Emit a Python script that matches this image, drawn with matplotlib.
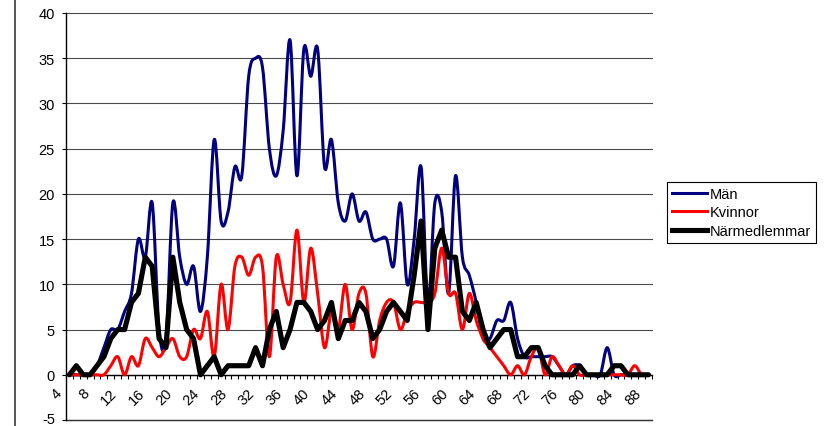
import numpy as np
import matplotlib
matplotlib.use("Agg")
import matplotlib.pyplot as plt
from matplotlib.path import Path
from matplotlib.patches import PathPatch
from matplotlib.lines import Line2D
import matplotlib.transforms as mtransforms
from matplotlib.ticker import FixedLocator, NullFormatter

plt.rcParams['font.family'] = ['Liberation Sans', 'DejaVu Sans']
plt.rcParams['axes.unicode_minus'] = False

# ---------------- data ----------------
ages = list(range(4, 89))
label_ages = list(range(4, 89, 4))
y_ticks = list(range(-5, 41, 5))

man = [0, 0, 0, 0, 1, 3, 5, 5, 7, 9,
       15, 13, 19, 5, 4, 19, 13, 10, 12, 7,
       13, 26, 17, 18, 23, 22, 33, 35, 34, 25,
       22, 27, 37, 22, 36, 33, 36, 23, 26, 19,
       17, 20, 17, 18, 15, 15, 15, 12, 19, 10,
       15, 23, 8, 19, 18, 9, 22, 13, 11, 8,
       4, 4, 6, 6, 8, 4, 2, 2, 2, 2,
       2, 1, 0, 1, 1, 0, 0, 0, 3, 0,
       0, 0, 0, 0, 0]

kvinnor = [0, 0, 0, 0, 0, 0, 1, 2, 0, 2,
           1, 4, 3, 2, 3, 4, 2, 2, 5, 4,
           7, 2, 10, 5, 12, 13, 11, 13, 12, 2,
           13, 10, 8, 16, 8, 14, 9, 3, 7, 5,
           10, 5, 9, 9, 2, 6, 8, 8, 5, 7,
           8, 8, 8, 9, 14, 9, 9, 5, 9, 6,
           4, 3, 2, 1, 0, 1, 0, 2, 3, 0,
           2, 1, 0, 1, 0, 0, 0, 0, 0, 0,
           0, 0, 1, 0, 0]

narmed = [0, 1, 0, 0, 1, 2, 4, 5, 5, 8,
          9, 13, 12, 4, 3, 13, 8, 5, 4, 0,
          1, 2, 0, 1, 1, 1, 1, 3, 1, 5,
          7, 3, 5, 8, 8, 7, 5, 6, 8, 4,
          6, 6, 8, 7, 4, 5, 7, 8, 7, 6,
          11, 17, 5, 14, 16, 13, 13, 7, 6, 8,
          5, 3, 4, 5, 5, 2, 2, 3, 3, 1,
          0, 0, 0, 0, 1, 0, 0, 0, 0, 1,
          1, 0, 0, 0, 0]

series_names = ['Män', 'Kvinnor', 'Närmedlemmar']
colors = ['#000080', '#FF0000', '#000000']
widths = [2.2, 2.2, 3.7]


def smooth_path(xs, ys):
    """Excel-like smoothed line as cubic Bezier path through the data points."""
    pts = np.column_stack([xs, ys]).astype(float)
    n = len(pts)
    verts = [pts[0]]
    codes = [Path.MOVETO]
    for i in range(n - 1):
        p0 = pts[i - 1] if i > 0 else pts[i]
        p1 = pts[i]
        p2 = pts[i + 1]
        p3 = pts[i + 2] if i + 2 < n else pts[i + 1]
        c1 = p1 + (p2 - p0) / 6.0
        c2 = p2 - (p3 - p1) / 6.0
        verts += [c1, c2, p2]
        codes += [Path.CURVE4] * 3
    return Path(verts, codes)


W, H = 832, 427
fig = plt.figure(figsize=(W / 100, H / 100), dpi=100)
ax = fig.add_axes([66 / W, 1 - 421 / H, (652 - 66) / W, (421 - 14) / H])

ax.set_xlim(3.5, 88.5)
ax.set_ylim(y_ticks[0], y_ticks[-1])

# axes styling
for s in ['top', 'right']:
    ax.spines[s].set_visible(False)
ax.spines['bottom'].set_position(('data', 0))
ax.spines['bottom'].set_color('black')
ax.spines['bottom'].set_linewidth(1.0)
ax.spines['left'].set_color('black')
ax.spines['left'].set_linewidth(1.0)

ax.set_yticks(y_ticks)
ax.yaxis.grid(True, color='#4a4a4a', linewidth=0.8)
for gl in ax.get_ygridlines():
    gl.set_clip_on(False)
ax.set_axisbelow(True)
ax.tick_params(axis='y', length=3, width=0.8, direction='out', pad=5,
               labelsize=10.5, colors='black')
up = mtransforms.ScaledTranslation(0, 2 / 100, fig.dpi_scale_trans)
for lab in ax.get_yticklabels():
    if lab.get_text() in ('-5', '−5'):
        lab.set_transform(lab.get_transform() + up)

# bottom gridline (lowest value level) drawn explicitly across the plot width
ax.plot([0, 1], [y_ticks[0], y_ticks[0]], transform=ax.get_yaxis_transform(),
        color='#333333', linewidth=1.0, clip_on=False, zorder=1)

ax.xaxis.set_major_locator(FixedLocator(np.arange(3.5, 89, 1.0)))
ax.xaxis.set_major_formatter(NullFormatter())
ax.set_xticks(label_ages, minor=True)
ax.set_xticklabels([str(a) for a in label_ages], minor=True,
                   rotation=45, ha='right', va='top', fontsize=10.5)
ax.tick_params(axis='x', which='major', length=3, width=0.8, direction='out',
               color='black')
ax.tick_params(axis='x', which='minor', length=0, pad=8)
offset = mtransforms.ScaledTranslation(-5 / 100, 0, fig.dpi_scale_trans)
for lab in ax.get_xticklabels(minor=True):
    lab.set_transform(lab.get_transform() + offset)

# series
for vals, col, lw in [(man, colors[0], widths[0]), (kvinnor, colors[1], widths[1])]:
    patch = PathPatch(smooth_path(ages, vals), fill=False, edgecolor=col,
                      linewidth=lw, capstyle='round', joinstyle='round',
                      clip_on=False, zorder=3)
    ax.add_patch(patch)
ax.plot(ages, narmed, color=colors[2], linewidth=widths[2],
        solid_joinstyle='round', solid_capstyle='round', clip_on=False, zorder=4)

handles = [Line2D([], [], color=c, linewidth=w) for c, w in zip(colors, widths)]
leg = fig.legend(handles, series_names, loc='upper left',
                 bbox_to_anchor=(667 / W, 1 - 183 / H), borderaxespad=0,
                 frameon=True, fancybox=False, shadow=False, edgecolor='black',
                 framealpha=1, fontsize=10.5, handlelength=2.4,
                 handletextpad=0.15, borderpad=0.35, labelspacing=0.3)
leg.get_frame().set_linewidth(0.8)

# left chart border
fig.add_artist(Line2D([14.5 / W, 14.5 / W], [0, 1], transform=fig.transFigure,
                      color='#3a3a3a', linewidth=1.2))

fig.savefig('out.png', dpi=100)
